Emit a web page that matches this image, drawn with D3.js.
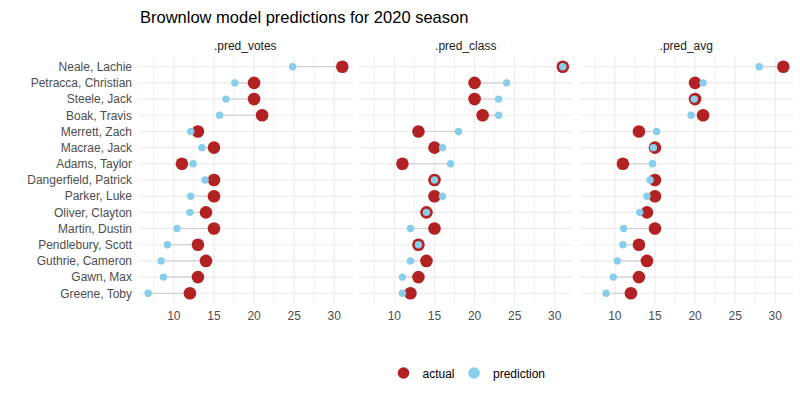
<!DOCTYPE html>
<html>
<head>
<meta charset="utf-8">
<script src="https://cdn.jsdelivr.net/npm/d3@7"></script>
<style>
  body { margin: 0; background: #fff; }
  text { font-family: "Liberation Sans", Arial, sans-serif; }
</style>
</head>
<body>
<div id="chart"></div>
<script>
"use strict";

const players = [
  "Neale, Lachie",
  "Petracca, Christian",
  "Steele, Jack",
  "Boak, Travis",
  "Merrett, Zach",
  "Macrae, Jack",
  "Adams, Taylor",
  "Dangerfield, Patrick",
  "Parker, Luke",
  "Oliver, Clayton",
  "Martin, Dustin",
  "Pendlebury, Scott",
  "Guthrie, Cameron",
  "Gawn, Max",
  "Greene, Toby",
];

const actual = [31, 20, 20, 21, 13, 15, 11, 15, 15, 14, 15, 13, 14, 13, 12];
const predVotes = [24.8, 17.6, 16.5, 15.7, 12.1, 13.5, 12.4, 13.9, 12.1, 12.0, 10.4, 9.2, 8.4, 8.7, 6.8];
const predClass = [31, 24, 23, 23, 18, 16, 17, 15, 16, 14, 12, 13, 12, 11, 11];
const predAvg = [28.0, 21.0, 19.9, 19.5, 15.2, 14.8, 14.7, 14.4, 14.0, 13.1, 11.1, 11.0, 10.3, 9.8, 8.9];

const facets = [".pred_votes", ".pred_class", ".pred_avg"];
const xTicks = [10, 15, 20, 25, 30];
const xMinor = [7.5, 12.5, 17.5, 22.5, 27.5, 32.5];
const legendLabels = ["actual", "prediction"];

const RED = "#B22222";
const BLUE = "#87CEEB";

const W = 800, H = 400;
const panelLeft = 138.5, panelW = 213.5, panelGap = 7;
const panelTop = 57, panelBottom = 303;

const svg = d3.select("#chart").append("svg")
  .attr("width", W).attr("height", H);

// shared x scale with 5% expansion like ggplot
const allVals = actual.concat(predVotes, predClass, predAvg);
const [lo, hi] = d3.extent(allVals);
const pad = (hi - lo) * 0.05;

const y = d3.scalePoint()
  .domain(players)
  .range([panelTop, panelBottom])
  .padding(0.6);

const preds = [predVotes, predClass, predAvg];

// title
svg.append("text")
  .attr("x", 140).attr("y", 23)
  .attr("font-size", "16.5px")
  .attr("fill", "#000")
  .text("Brownlow model predictions for 2020 season");

// y labels
svg.append("g").selectAll("text")
  .data(players)
  .enter()
  .append("text")
  .attr("x", 132)
  .attr("y", (d) => y(d) + 4.3)
  .attr("text-anchor", "end")
  .attr("font-size", "12px")
  .attr("fill", "#4D4D4D")
  .text((d) => d);

facets.forEach((name, fi) => {
  const x0 = panelLeft + fi * (panelW + panelGap);
  const x = d3.scaleLinear()
    .domain([lo - pad, hi + pad])
    .range([x0, x0 + panelW]);

  const g = svg.append("g");
  const clipId = "clip" + fi;
  svg.append("clipPath").attr("id", clipId)
    .append("rect")
    .attr("x", x0).attr("y", panelTop)
    .attr("width", panelW).attr("height", panelBottom - panelTop);

  const grid = g.append("g").attr("clip-path", `url(#${clipId})`);

  grid.selectAll("line.minor")
    .data(xMinor)
    .enter()
    .append("line")
    .attr("x1", (d) => x(d)).attr("x2", (d) => x(d))
    .attr("y1", panelTop).attr("y2", panelBottom)
    .attr("stroke", "#EBEBEB").attr("stroke-width", 0.7);

  grid.selectAll("line.major")
    .data(xTicks)
    .enter()
    .append("line")
    .attr("x1", (d) => x(d)).attr("x2", (d) => x(d))
    .attr("y1", panelTop).attr("y2", panelBottom)
    .attr("stroke", "#EBEBEB").attr("stroke-width", 1.1);

  grid.selectAll("line.row")
    .data(players)
    .enter()
    .append("line")
    .attr("x1", x0).attr("x2", x0 + panelW)
    .attr("y1", (d) => y(d)).attr("y2", (d) => y(d))
    .attr("stroke", "#EBEBEB").attr("stroke-width", 1.1);

  // strip label
  g.append("text")
    .attr("x", x0 + panelW / 2).attr("y", 50)
    .attr("text-anchor", "middle")
    .attr("font-size", "12px")
    .attr("fill", "#1A1A1A")
    .text(name);

  // x tick labels
  g.selectAll("text.tick")
    .data(xTicks)
    .enter()
    .append("text")
    .attr("x", (d) => x(d))
    .attr("y", 320)
    .attr("text-anchor", "middle")
    .attr("font-size", "12px")
    .attr("fill", "#4D4D4D")
    .text((d) => d);

  const pred = preds[fi];
  const rows = players.map((p, i) => ({ p, a: actual[i], v: pred[i] }));

  g.selectAll("line.seg")
    .data(rows)
    .enter()
    .append("line")
    .attr("x1", (d) => x(d.v)).attr("x2", (d) => x(d.a))
    .attr("y1", (d) => y(d.p)).attr("y2", (d) => y(d.p))
    .attr("stroke", "#CCCCCC").attr("stroke-width", 1);

  g.selectAll("circle.act")
    .data(rows)
    .enter()
    .append("circle")
    .attr("cx", (d) => x(d.a)).attr("cy", (d) => y(d.p))
    .attr("r", 6.3)
    .attr("fill", RED);

  g.selectAll("circle.pred")
    .data(rows)
    .enter()
    .append("circle")
    .attr("cx", (d) => x(d.v)).attr("cy", (d) => y(d.p))
    .attr("r", 3.7)
    .attr("fill", BLUE);
});

// legend
const legendX = [403.5, 474];
const legend = svg.append("g");
legend.selectAll("circle")
  .data(legendLabels)
  .enter()
  .append("circle")
  .attr("cx", (_, i) => legendX[i]).attr("cy", 373)
  .attr("r", 5.8)
  .attr("fill", (_, i) => (i === 0 ? RED : BLUE));

legend.selectAll("text")
  .data(legendLabels)
  .enter()
  .append("text")
  .attr("x", (_, i) => legendX[i] + 19)
  .attr("y", 377.5)
  .attr("font-size", "12px")
  .attr("fill", "#000")
  .text((d) => d);
</script>
</body>
</html>
